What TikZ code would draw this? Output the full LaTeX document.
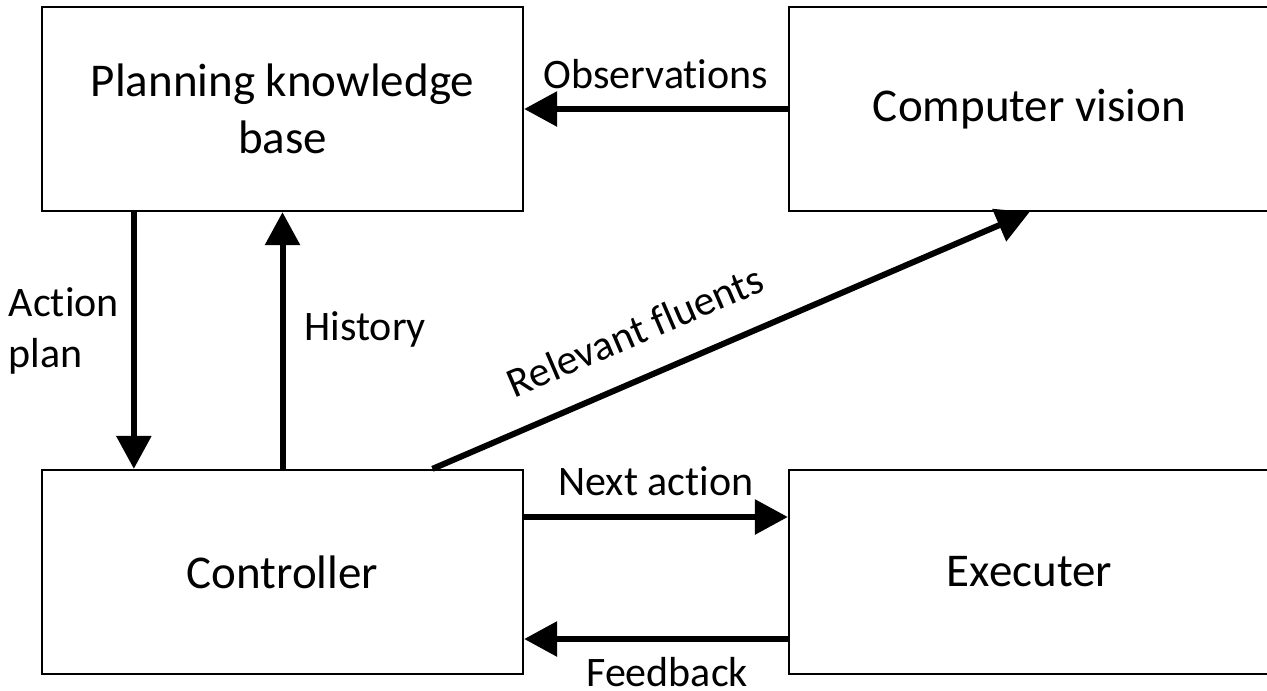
\documentclass[tikz,border=0pt]{standalone}
\usepackage{fontspec}
\setmainfont{Carlito}[Ligatures = NoCommon]
\usetikzlibrary{arrows.meta}
\usetikzlibrary{calc}

\tikzset{
    block/.style = {draw, line width = 2.3pt, minimum width = 481pt, minimum height = 204pt,
        inner sep = 0pt, align = center, font = \fontsize{47}{57}\selectfont},
    flow/.style = {line width = 6pt, -{Triangle[length = 33pt, width = 34pt]}},
    flowlabel/.style = {inner sep = 0pt, font = \fontsize{42}{51}\selectfont}
}

\begin{document}
\begin{tikzpicture}[x = 1pt, y = -1pt]

    \useasboundingbox (0, 0) rectangle (1267, 691);

    % ---------- Blocks
    \node[block] (knowledge) at (282.5, 109) {Planning knowledge\\base};
    \node[block] (vision) at (1029.5, 109) {Computer vision};
    \node[block] (controller) at (282.5, 572) {Controller};
    \node[block] (executer) at (1029.5, 572) {Executer};

    % ---------- Top row
    \draw[flow] (vision) -- node [flowlabel, anchor = base, yshift = 21pt] {Observations} (knowledge);

    % ---------- Between planner and controller
    \draw[flow] ($(knowledge.south west) + (93, 0)$) -- node [flowlabel, left = 12pt, align = left, yshift = 10pt] {Action\\plan} ($(controller.north west) + (93, 0)$);
    \draw[flow] (controller) -- node [flowlabel, anchor = base west, xshift = 19pt] {History} (knowledge);

    % ---------- Controller to vision
    \draw[flow] ($(controller.north) + (150, 0)$) -- node [flowlabel, sloped, pos = 0.37, above = 29pt] {Relevant fluents} (vision.south);

    % ---------- Bottom row
    \draw[flow] ($(controller.east) + (0, -55)$) -- node [flowlabel, anchor = base, yshift = 22pt] {Next action} ($(executer.west) + (0, -55)$);
    \draw[flow] ($(executer.east) + (0, 67)$) ++(-481, 0) -- node [flowlabel, anchor = base, yshift = -47pt, xshift = 10pt] {Feedback} ($(controller.east) + (0, 67)$);

\end{tikzpicture}
\end{document}
